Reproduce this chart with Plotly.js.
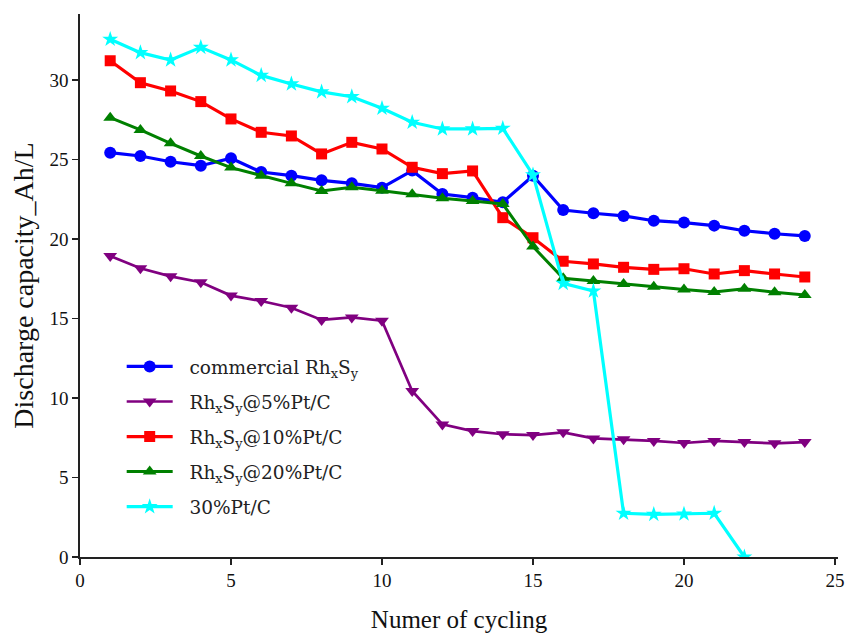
<!DOCTYPE html>
<html>
<head>
<meta charset="utf-8">
<script src="https://cdn.plot.ly/plotly-3.0.1.min.js"></script>
<style>html,body{margin:0;padding:0;background:#fff;}#chart{width:846px;height:634px;}</style>
</head>
<body>
<div id="chart"></div>
<script>
const cycles = [1,2,3,4,5,6,7,8,9,10,11,12,13,14,15,16,17,18,19,20,21,22,23,24];
const cyclesPt = [1,2,3,4,5,6,7,8,9,10,11,12,13,14,15,16,17,18,19,20,21,22];
const commercial = [25.43,25.22,24.86,24.61,25.08,24.21,23.98,23.69,23.50,23.23,24.30,22.83,22.60,22.31,23.98,21.82,21.62,21.45,21.15,21.03,20.84,20.52,20.33,20.19];
const pt5 = [18.93,18.16,17.65,17.28,16.44,16.10,15.68,14.91,15.07,14.86,10.44,8.34,7.92,7.72,7.67,7.84,7.46,7.40,7.30,7.17,7.30,7.23,7.15,7.23];
const pt10 = [31.21,29.83,29.31,28.64,27.55,26.71,26.48,25.35,26.08,25.66,24.51,24.11,24.28,21.34,20.08,18.60,18.43,18.22,18.09,18.13,17.80,18.01,17.80,17.61];
const pt20 = [27.63,26.86,26.02,25.22,24.49,23.98,23.50,23.02,23.25,23.04,22.81,22.56,22.39,22.20,19.52,17.53,17.36,17.17,17.00,16.83,16.67,16.87,16.65,16.48];
const pt30 = [32.56,31.72,31.26,32.05,31.26,30.29,29.75,29.25,28.95,28.22,27.34,26.92,26.92,26.96,24.03,17.21,16.73,2.75,2.68,2.70,2.75,0.0];
const names = ['commercial Rh<sub>x</sub>S<sub>y</sub>','Rh<sub>x</sub>S<sub>y</sub>@5%Pt/C','Rh<sub>x</sub>S<sub>y</sub>@10%Pt/C','Rh<sub>x</sub>S<sub>y</sub>@20%Pt/C','30%Pt/C'];
const xTicks = [0,5,10,15,20,25];
const yTicks = [0,5,10,15,20,25,30];

function tr(x, y, name, color, symbol, msize, lw, g){
  return {x:x, y:y, name:'\u00a0\u00a0' + name, type:'scatter', mode:'lines+markers', legendgroup:g,
    line:{color:color, width:lw}, marker:{color:color, symbol:symbol, size:msize, line:{width:0}}};
}
const data = [
  tr(cycles, commercial, names[0], '#0000ff', 'circle', 12, 3.2, 'a'),
  tr(cycles, pt5, names[1], '#800080', 'triangle-down', 12, 2.7, 'b'),
  tr(cycles, pt10, names[2], '#ff0000', 'square', 11, 3.2, 'c'),
  tr(cycles, pt20, names[3], '#008000', 'triangle-up', 12, 3, 'd'),
  tr(cyclesPt, pt30, names[4], '#00ffff', 'star', 12, 3.2, 'e')
];
const axisCommon = {showgrid:false, zeroline:false, showline:true, linecolor:'#222', linewidth:1.6,
  ticks:'outside', ticklen:6, tickwidth:1.5, tickcolor:'#222',
  tickfont:{family:'Liberation Serif, Times New Roman, serif', size:19, color:'#111'}};
const layout = {
  width:846, height:634,
  margin:{l:80, r:8, t:14, b:77},
  paper_bgcolor:'#fff', plot_bgcolor:'#fff',
  showlegend:true,
  xaxis: Object.assign({}, axisCommon, {range:[0,25.1], tickvals:xTicks, ticktext:xTicks.map(String),
    title:{text:'Numer of cycling', font:{family:'Liberation Serif, Times New Roman, serif', size:25, color:'#111'}, standoff:20}}),
  yaxis: Object.assign({}, axisCommon, {range:[0,34.15], tickvals:yTicks, ticktext:yTicks.map(String),
    title:{text:'Discharge capacity_Ah/L', font:{family:'Liberation Serif, Times New Roman, serif', size:28, color:'#111'}, standoff:8}}),
  legend:{x:0.055, y:0.385, xanchor:'left', yanchor:'top', bgcolor:'rgba(0,0,0,0)', borderwidth:0,
    font:{family:'DejaVu Serif', size:18.5, color:'#222'}, traceorder:'grouped', tracegroupgap:8, itemwidth:46}
};
Plotly.newPlot('chart', data, layout, {displayModeBar:false, staticPlot:true});
</script>
</body>
</html>
